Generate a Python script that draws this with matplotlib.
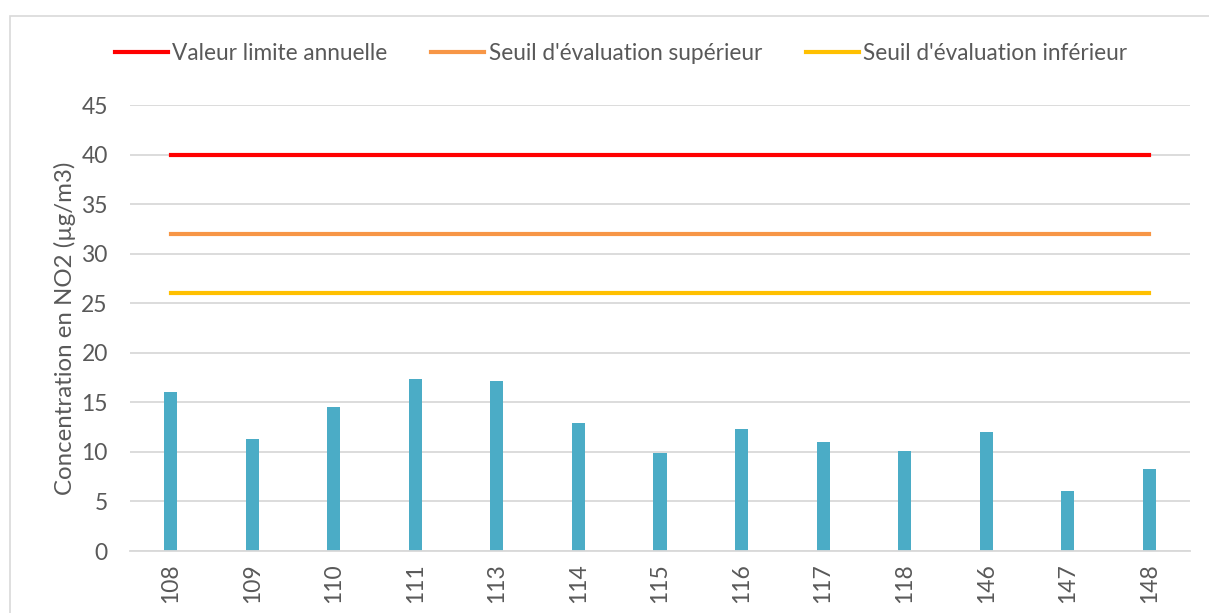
import numpy as np
import matplotlib.pyplot as plt
from matplotlib.patches import Rectangle

# stations and annual NO2 means
stations = ['108', '109', '110', '111', '113', '114', '115', '116', '117', '118', '146', '147', '148']
no2 = [16.0, 11.3, 14.5, 17.4, 17.2, 12.9, 9.9, 12.3, 11.0, 10.1, 12.0, 6.1, 8.3]

# regulatory thresholds
valeur_limite = 40
seuil_sup = 32
seuil_inf = 26

plt.rcParams['font.family'] = ['Lato', 'DejaVu Sans']
txt = '#595959'

fig = plt.figure(figsize=(12.09, 6.13), dpi=100)
ax = fig.add_axes([130/1209, 62/613, 1060/1209, 446/613])

# chart border like the excel frame
fig.patches.append(Rectangle((10/1209, -0.01), 1.2, (613-16)/613 + 0.01, transform=fig.transFigure,
                             fill=False, edgecolor='#D9D9D9', linewidth=1.2))

x = np.arange(len(stations))
ax.bar(x, no2, width=0.16, color='#4BACC6', zorder=2)
ax.plot(x, [valeur_limite]*len(x), color='#FF0000', lw=3, label='Valeur limite annuelle', zorder=3)
ax.plot(x, [seuil_sup]*len(x), color='#F79646', lw=3, label="Seuil d'évaluation supérieur", zorder=3)
ax.plot(x, [seuil_inf]*len(x), color='#FFC000', lw=3, label="Seuil d'évaluation inférieur", zorder=3)

ax.set_xlim(-0.5, len(x) - 0.5)
ax.set_ylim(0, 45)
ax.set_yticks(range(0, 46, 5))
ax.set_xticks(x)
ax.set_xticklabels(stations, rotation=90)
ax.yaxis.grid(True, color='#D9D9D9', lw=1.3, zorder=0)
ax.set_axisbelow(True)
for s in ['top', 'right', 'left']:
    ax.spines[s].set_visible(False)
ax.spines['bottom'].set_color('#D9D9D9')
ax.spines['bottom'].set_linewidth(1.3)
ax.tick_params(length=0, labelsize=16.5, colors=txt)
ax.tick_params(axis='y', pad=16)
ax.tick_params(axis='x', pad=9)
ax.set_ylabel('Concentration en NO2 (µg/m3)', fontsize=17.3, color=txt, labelpad=4)

leg = fig.legend(loc='center', bbox_to_anchor=(621/1209, 1 - 53/613), ncol=3, frameon=False,
                 fontsize=16.3, handlelength=2.35, handletextpad=0.18, columnspacing=1.95)
for t in leg.get_texts():
    t.set_color(txt)

fig.savefig('out.png', dpi=100)
